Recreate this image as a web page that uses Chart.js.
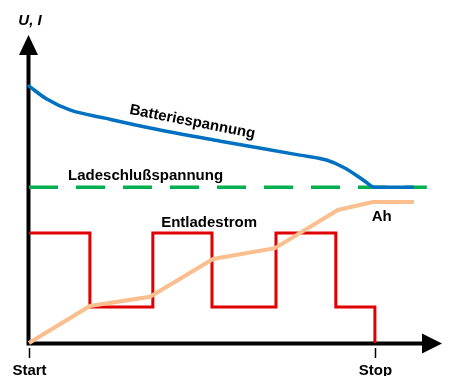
<!DOCTYPE html>
<html>
<head>
<meta charset="utf-8">
<script src="https://cdn.jsdelivr.net/npm/chart.js@4"></script>
<style>
html,body{margin:0;padding:0;background:#fff;}
canvas{display:block;}
</style>
</head>
<body>
<canvas id="c" width="450" height="376"></canvas>
<script>
// ---- data (time 0 = Start, 100 = Stop; values in % of y axis) ----
const batteryTime    = [0, 5, 12, 22, 35, 55, 78.3, 86, 91, 95.5, 99.4];
const batteryVoltage = [83.4, 79.3, 75.6, 73.0, 69.8, 65.6, 61.0, 59.4, 57.0, 53.8, 50.6];
// after the cut-off voltage is reached the voltage stays flat
const batteryHoldTime    = [99.4, 111.3];
const batteryHoldVoltage = [50.6, 50.6];

const cutoffTime    = [0, 115];
const cutoffVoltage = [50.6, 50.6];

const currentSwitchTime = [0, 17.6, 35.8, 52.9, 71.4, 88.7, 100];
const currentLevel      = [35.7, 11.7, 35.7, 11.7, 35.7, 11.7, 0];

const ahTime   = [0, 17.6, 35, 53.2, 71.1, 89.3, 99.4, 111.3];
const ahValue  = [0, 12, 15, 27.3, 30.8, 43.2, 45.8, 45.8];

const tickValues = [0, 100];
const tickLabels = ['Start', 'Stop'];

const axisLabel = 'U, I';
const seriesLabels = ['Batteriespannung', 'Ladeschlußspannung', 'Entladestrom', 'Ah'];
// label anchor positions in data units
const labelX = [28.9, 11.3, 38.2, 99.1];
const labelY = [74.4, 52.9, 37.7, 39.6];

const xMax = 119.4, yMax = 100;

const pts = (xs, ys) => xs.map((v, i) => ({x: v, y: ys[i]}));

const deco = {
  id: 'deco',
  beforeDatasetsDraw(chart) {
    const {ctx, scales: {x, y}} = chart;
    const x0 = x.getPixelForValue(0), y0 = y.getPixelForValue(0);
    const xTip = x.getPixelForValue(xMax), yTip = y.getPixelForValue(yMax);
    ctx.save();
    ctx.strokeStyle = '#000'; ctx.fillStyle = '#000'; ctx.lineWidth = 4;
    ctx.beginPath();
    ctx.moveTo(x0 - 0.5, y0 + 0.5); ctx.lineTo(x0 - 0.5, yTip + 15);
    ctx.moveTo(x0 - 2.5, y0 + 0.5); ctx.lineTo(xTip - 15, y0 + 0.5);
    ctx.stroke();
    // arrows
    ctx.beginPath();
    ctx.moveTo(x0 - 0.5, yTip); ctx.lineTo(x0 - 10, yTip + 20); ctx.lineTo(x0 + 9, yTip + 20); ctx.closePath();
    ctx.fill();
    ctx.beginPath();
    ctx.moveTo(xTip, y0 + 0.5); ctx.lineTo(xTip - 20, y0 - 9.5); ctx.lineTo(xTip - 20, y0 + 10.5); ctx.closePath();
    ctx.fill();
    // tick marks + labels
    ctx.lineWidth = 1.5;
    ctx.font = 'bold 15px "Liberation Sans", Arial, sans-serif';
    ctx.textAlign = 'center'; ctx.textBaseline = 'alphabetic';
    tickValues.forEach((v, i) => {
      const px = Math.round(x.getPixelForValue(v)) + 0.5;
      ctx.beginPath(); ctx.moveTo(px, y0 + 5); ctx.lineTo(px, y0 + 15); ctx.stroke();
      ctx.fillText(tickLabels[i], px, y0 + 32);
    });
    ctx.font = 'italic bold 15px "Liberation Sans", Arial, sans-serif';
    ctx.fillText(axisLabel, x0 + 1, yTip - 10);
    ctx.restore();
  },
  afterDatasetsDraw(chart) {
    const {ctx, scales: {x, y}} = chart;
    ctx.save();
    ctx.fillStyle = '#000';
    ctx.font = 'bold 15px "Liberation Sans", Arial, sans-serif';
    ctx.textAlign = 'left'; ctx.textBaseline = 'alphabetic';
    seriesLabels.forEach((t, i) => {
      const px = x.getPixelForValue(labelX[i]), py = y.getPixelForValue(labelY[i]);
      ctx.save();
      ctx.translate(px, py);
      if (i === 0) ctx.rotate(11 * Math.PI / 180);
      ctx.fillText(t, 0, 0);
      ctx.restore();
    });
    ctx.restore();
  }
};

new Chart(document.getElementById('c'), {
  type: 'line',
  data: {
    datasets: [
      {label: seriesLabels[0], data: pts(batteryTime, batteryVoltage), borderColor: '#0070C0', borderWidth: 3.5,
       cubicInterpolationMode: 'monotone', pointRadius: 0, order: 1, clip: false, borderCapStyle: 'round'},
      {label: seriesLabels[0], data: pts(batteryHoldTime, batteryHoldVoltage), borderColor: '#0070C0', borderWidth: 3.5,
       pointRadius: 0, order: 1, clip: false, borderCapStyle: 'butt'},
      {label: seriesLabels[1], data: pts(cutoffTime, cutoffVoltage), borderColor: '#00B050', borderWidth: 3.5,
       borderDash: [29, 18], pointRadius: 0, order: 2, clip: false, borderCapStyle: 'butt'},
      {label: seriesLabels[3], data: pts(ahTime, ahValue), borderColor: '#FBBE8E', borderWidth: 4,
       tension: 0, pointRadius: 0, order: 3, clip: false},
      {label: seriesLabels[2], data: pts(currentSwitchTime, currentLevel), borderColor: '#E00000', borderWidth: 3,
       stepped: 'before', pointRadius: 0, order: 4, clip: false}
    ]
  },
  options: {
    responsive: false,
    devicePixelRatio: 1,
    animation: false,
    layout: {padding: {left: 29, right: 8, top: 35, bottom: 33}},
    plugins: {legend: {display: false}, tooltip: {enabled: false}},
    scales: {
      x: {type: 'linear', min: 0, max: xMax, display: false},
      y: {type: 'linear', min: 0, max: yMax, display: false}
    }
  },
  plugins: [deco]
});
</script>
</body>
</html>
